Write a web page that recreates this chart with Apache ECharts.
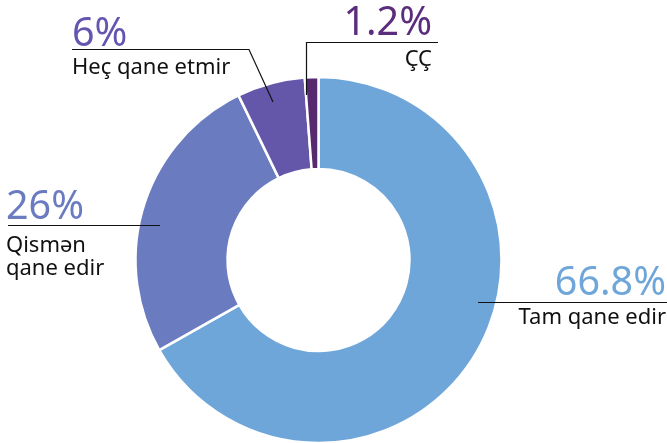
<!DOCTYPE html>
<html>
<head>
<meta charset="utf-8">
<script src="https://cdn.jsdelivr.net/npm/echarts@6/dist/echarts.min.js"></script>
<style>
  html, body { margin: 0; padding: 0; background: #ffffff; }
  #chart { width: 667px; height: 443px; }
</style>
</head>
<body>
<div id="chart"></div>
<script>
// data
var categories = ['Tam qane edir', 'Qismən\nqane edir', 'Heç qane etmir', 'ÇÇ'];
var values = [66.8, 26, 6, 1.2];

// colours for slices and percent text
var sliceColors = ['#6FA6DA', '#6A7BC0', '#6457A9', '#57296F'];
var pctColors = ['#6FA6DA', '#6A7BC0', '#6356B0', '#5B2D7C'];

// where each label sits and how its leader line runs
var labelPos = [
  { x: 666, y: 262, align: 'right', lh: 44, line: [[478, 302.5], [667, 302.5]] },
  { x: 6, y: 182, align: 'left', lh: 52, line: [[160, 225.5], [8, 225.5]] },
  { x: 72, y: 14, align: 'left', lh: 42, line: [[273, 102], [249, 49.5], [72, 49.5]] },
  { x: 432, y: 0, align: 'right', lh: 48, line: [[306.5, 95], [306.5, 42.5], [438, 42.5]] }
];

var chart = echarts.init(document.getElementById('chart'), null, { renderer: 'canvas' });

var rich = {
  n: { fontFamily: 'Noto Sans', fontSize: 22, lineHeight: 23, color: '#111111' }
};
for (var i = 0; i < values.length; i++) {
  rich['p' + i] = {
    fontFamily: 'Noto Sans',
    fontSize: 39.5,
    lineHeight: labelPos[i].lh,
    color: pctColors[i]
  };
}

var pieData = [];
for (var k = 0; k < values.length; k++) {
  pieData.push({
    value: values[k],
    name: categories[k],
    itemStyle: { color: sliceColors[k] }
  });
}

// leader lines drawn on top of the slices
var lines = labelPos.map(function (lp) {
  return {
    type: 'polyline',
    z: 100,
    shape: { points: lp.line },
    style: { stroke: '#111111', lineWidth: 1.2, fill: null }
  };
});

chart.setOption({
  backgroundColor: '#ffffff',
  animation: false,
  graphic: lines,
  series: [{
    type: 'pie',
    center: [318.5, 260],
    radius: [91, 183],
    startAngle: 90,
    clockwise: true,
    avoidLabelOverlap: false,
    itemStyle: { borderColor: '#ffffff', borderWidth: 2.5 },
    label: {
      show: true,
      position: 'outside',
      formatter: function (p) {
        var names = p.name.split('\n').map(function (s) { return '{n|' + s + '}'; });
        return '{p' + p.dataIndex + '|' + p.value + '%}\n' + names.join('\n');
      },
      rich: rich
    },
    labelLine: { show: false },
    labelLayout: function (params) {
      var lp = labelPos[params.dataIndex];
      return {
        x: lp.x,
        y: lp.y,
        align: lp.align,
        verticalAlign: 'top'
      };
    },
    emphasis: { disabled: true },
    data: pieData
  }]
});
</script>
</body>
</html>
